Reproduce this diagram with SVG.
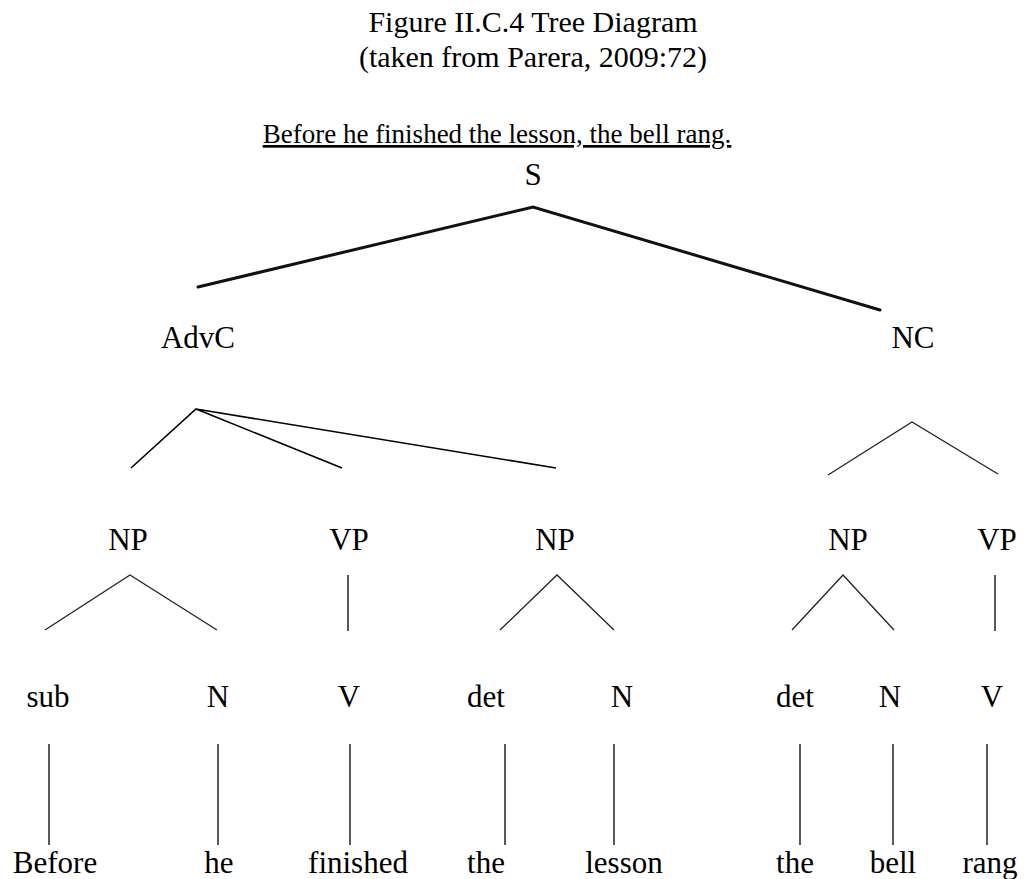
<svg xmlns="http://www.w3.org/2000/svg" width="1030" height="879" viewBox="0 0 1030 879">
<style>
text{font-family:"Liberation Serif","Times New Roman",serif;fill:#000;text-anchor:middle}
.t{font-size:30px}
.s{font-size:27px;text-decoration:underline}
.l{font-size:31px}
.thick{stroke:#111;stroke-width:3;fill:none;stroke-linecap:round}
.thin{stroke:#000;stroke-width:1.6;fill:none}
.tri{stroke:#222;stroke-width:1.3;fill:none}
.v{stroke:#000;stroke-width:1.3;fill:none}
</style>
<rect width="1030" height="879" fill="#fff"/>
<g id="title">
<text class="t" x="533" y="32">Figure II.C.4 Tree Diagram</text>
<text class="t" x="533" y="67">(taken from Parera, 2009:72)</text>
<text class="s" x="497" y="143">Before he finished the lesson, the bell rang.</text>
</g>
<g id="connectors">
<path class="thick" d="M198 287 L533 207 L880 310"/>
<path class="thin" d="M131 468 L196 409 L342 468 M196 409 L556 468"/>
<path class="tri" d="M828 475 L912 422 L998 474"/>
<path class="tri" d="M45 630 L130 575 L217 630"/>
<path class="tri" d="M500 630 L557 575 L614 630"/>
<path class="tri" d="M792 630 L843 575 L894 630"/>
<path class="v" d="M348 575 V631 M995 575 V631"/>
<path class="v" d="M49 744 V845 M218 744 V845 M350 744 V845 M505 744 V845 M614 744 V845 M800 744 V845 M893 744 V845 M987 744 V845"/>
</g>
<g id="n-S"><text class="l" x="533" y="185">S</text></g>
<g id="n-AdvC"><text class="l" x="198" y="348">AdvC</text></g>
<g id="n-NC"><text class="l" x="913" y="348">NC</text></g>
<g id="n-NP1"><text class="l" x="128" y="550">NP</text></g>
<g id="n-VP1"><text class="l" x="349" y="550">VP</text></g>
<g id="n-NP2"><text class="l" x="555" y="550">NP</text></g>
<g id="n-NP3"><text class="l" x="848" y="550">NP</text></g>
<g id="n-VP2"><text class="l" x="997" y="550">VP</text></g>
<g id="n-sub"><text class="l" x="48" y="707">sub</text></g>
<g id="n-N1"><text class="l" x="218" y="707">N</text></g>
<g id="n-V1"><text class="l" x="349" y="707">V</text></g>
<g id="n-det1"><text class="l" x="486" y="707">det</text></g>
<g id="n-N2"><text class="l" x="622" y="707">N</text></g>
<g id="n-det2"><text class="l" x="795" y="707">det</text></g>
<g id="n-N3"><text class="l" x="890" y="707">N</text></g>
<g id="n-V2"><text class="l" x="992" y="707">V</text></g>
<g id="w-Before"><text class="l" x="55" y="873">Before</text></g>
<g id="w-he"><text class="l" x="219" y="873">he</text></g>
<g id="w-finished"><text class="l" x="358" y="873">finished</text></g>
<g id="w-the1"><text class="l" x="486" y="873">the</text></g>
<g id="w-lesson"><text class="l" x="624" y="873">lesson</text></g>
<g id="w-the2"><text class="l" x="795" y="873">the</text></g>
<g id="w-bell"><text class="l" x="893" y="873">bell</text></g>
<g id="w-rang"><text class="l" x="990" y="873">rang</text></g>
</svg>
